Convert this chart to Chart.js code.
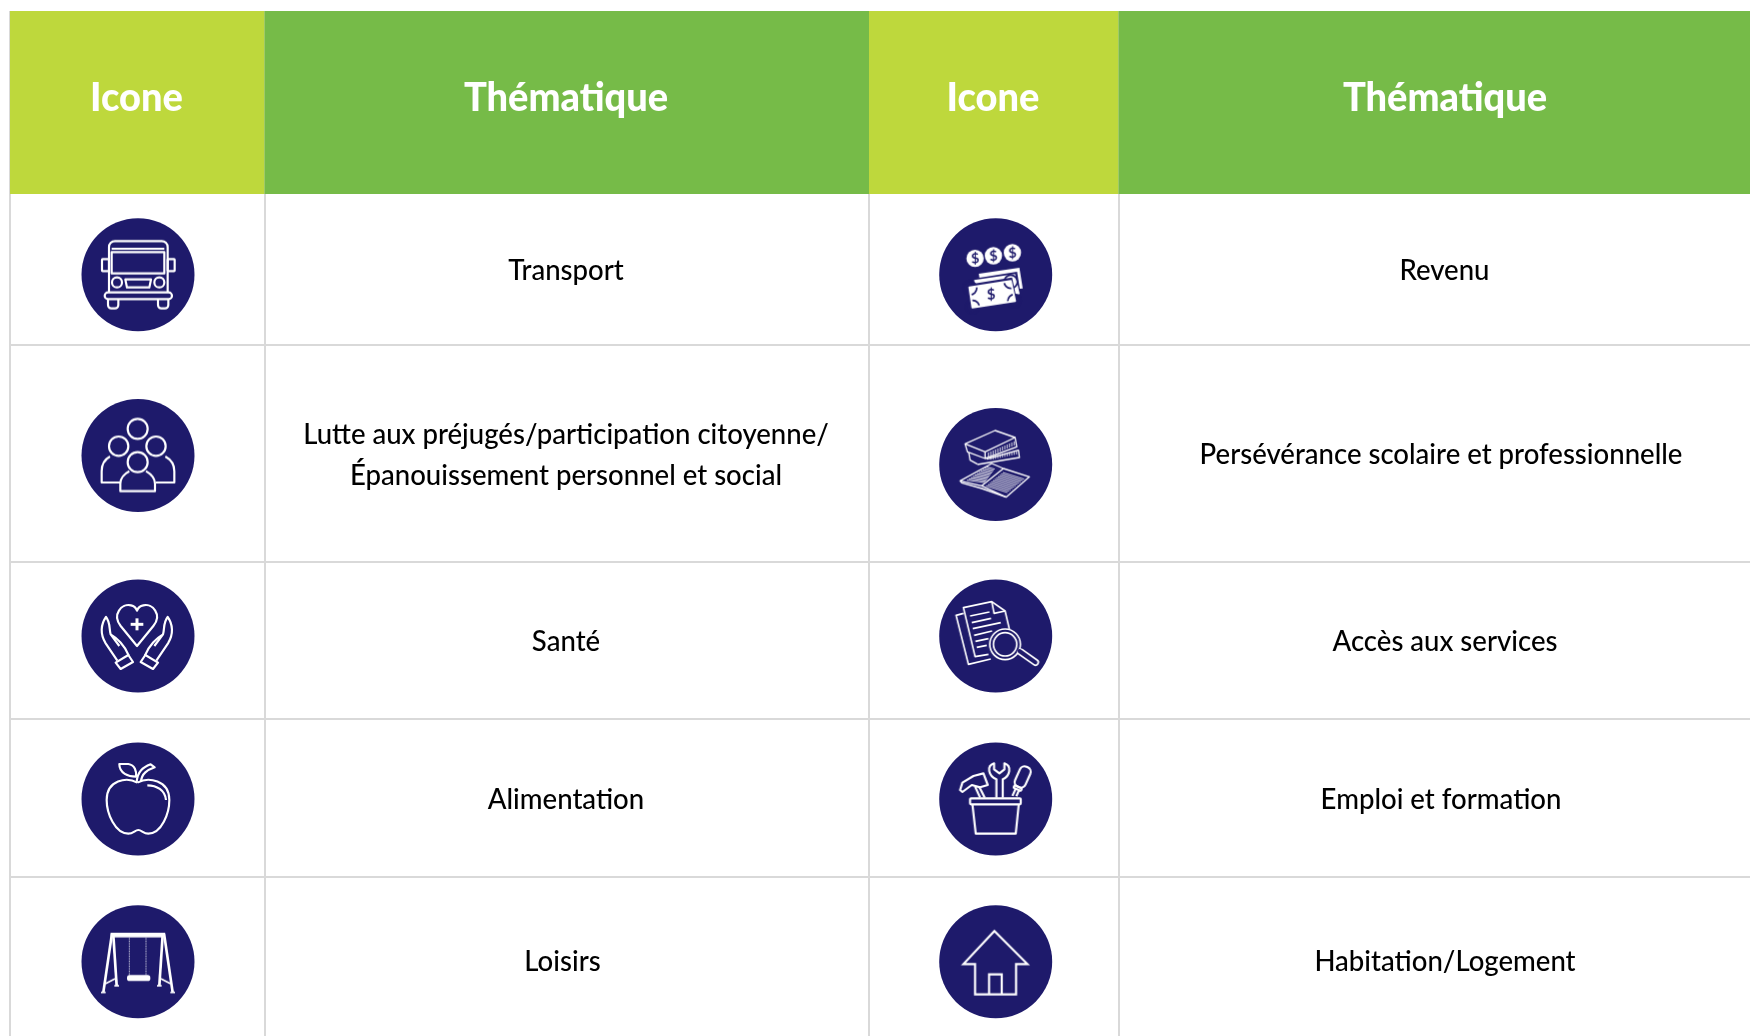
<!DOCTYPE html>
<html lang="fr">
<head>
<meta charset="utf-8">
<title>Thématiques</title>
<script src="https://cdn.jsdelivr.net/npm/chart.js@4"></script>
<style>
  html, body { margin: 0; padding: 0; background: #fff; overflow: hidden; }
  canvas { display: block; }
</style>
</head>
<body>
<canvas id="table-chart" width="1750" height="1036"></canvas>
<script>
// table content
const headers = ['Icone', 'Thématique', 'Icone', 'Thématique'];
const leftThemes = ['Transport', 'Lutte aux préjugés/participation citoyenne/\nÉpanouissement personnel et social', 'Santé', 'Alimentation', 'Loisirs'];
const rightThemes = ['Revenu', 'Persévérance scolaire et professionnelle', 'Accès aux services', 'Emploi et formation', 'Habitation/Logement'];
const leftIcons = ['bus', 'people', 'health', 'apple', 'swing'];
const rightIcons = ['money', 'books', 'search', 'tools', 'house'];

// table layout, in axis units
const columnEdges = [10, 264.5, 869, 1118.5, 1750];
const rowEdges = [11, 194, 345, 561.5, 719, 877];
const iconColumns = [138, 995.7];
const leftIconRows = [274.7, 455.5, 636, 799, 961.7];
const rightIconRows = [274.7, 464.5, 636, 799, 961.7];
const headerCenters = [136.5, 566, 993, 1445];
const headerRow = 98.5;
const leftTextX = [566, 566, 566, 566, 562.5];
const rightTextX = [1444.5, 1441, 1445, 1441, 1445];
const leftTextY = [270.5, 455, 641.5, 799.5, 961.5];
const rightTextY = [270.5, 454.5, 641.5, 799.5, 961.5];

const NAVY = '#1E1A6B';
const LIME = '#BED83C';
const GREEN = '#76BB48';
const GRID = '#D9D9D9';
const FONT = 'Lato, Carlito, sans-serif';
const headerSqueeze = 0.95;
const bodySqueeze = 0.95;

function poly(c, pts, close) {
  c.beginPath();
  pts.forEach((p, i) => i ? c.lineTo(p[0], p[1]) : c.moveTo(p[0], p[1]));
  if (close) c.closePath();
  c.stroke();
}
function circle(c, x, y, r) {
  c.beginPath();
  c.arc(x, y, r, 0, Math.PI * 2);
  c.stroke();
}
function rrect(c, x, y, w, h, r) {
  c.beginPath();
  c.roundRect(x, y, w, h, r);
  c.stroke();
}

// each glyph is drawn in 3x units around its own centre
const glyphs = {
  bus: { center: [234, 224], draw(c) {
    c.beginPath();
    c.moveTo(147, 278);
    c.lineTo(147, 141);
    c.arcTo(147, 123, 165, 123, 18);
    c.lineTo(305, 123);
    c.arcTo(323, 123, 323, 141, 18);
    c.lineTo(323, 278);
    c.stroke();
    poly(c, [[155, 146], [313, 146]]);
    poly(c, [[155, 156], [313, 156], [313, 220], [155, 220]], true);
    rrect(c, 126, 177, 21, 36, 2);
    rrect(c, 323, 177, 21, 36, 2);
    circle(c, 171, 247, 15);
    circle(c, 298, 247, 15);
    poly(c, [[196, 238], [273, 238], [268, 262], [201, 262]], true);
    rrect(c, 134, 277, 202, 20, 10);
    c.beginPath();
    c.moveTo(144, 297); c.lineTo(144, 315); c.arcTo(144, 325, 154, 325, 10); c.lineTo(165, 325); c.arcTo(175, 325, 175, 315, 10); c.lineTo(175, 297);
    c.moveTo(294, 297); c.lineTo(294, 315); c.arcTo(294, 325, 304, 325, 10); c.lineTo(315, 325); c.arcTo(325, 325, 325, 315, 10); c.lineTo(325, 297);
    c.stroke();
  } },
  people: { center: [234, 211], draw(c) {
    circle(c, 233, 131, 30);
    circle(c, 176, 183, 29);
    circle(c, 288, 183, 29);
    circle(c, 233, 231, 30);
    c.beginPath();
    c.moveTo(150, 214); c.bezierCurveTo(130, 225, 125, 240, 125, 258); c.lineTo(125, 292); c.lineTo(180, 292);
    c.moveTo(316, 214); c.bezierCurveTo(336, 225, 343, 240, 343, 258); c.lineTo(343, 292); c.lineTo(287, 292);
    c.stroke();
    c.beginPath();
    c.moveTo(208, 258); c.bezierCurveTo(200, 262, 181, 275, 181, 296); c.lineTo(181, 318); c.lineTo(285, 318); c.lineTo(285, 296);
    c.bezierCurveTo(285, 275, 270, 265, 258, 258);
    c.stroke();
  } },
  health: { center: [234, 210], draw(c) {
    c.beginPath();
    c.moveTo(231, 240);
    c.lineTo(182, 180);
    c.bezierCurveTo(155, 145, 185, 112, 213, 118);
    c.bezierCurveTo(223, 120, 229, 128, 231, 134);
    c.bezierCurveTo(233, 128, 240, 120, 250, 118);
    c.bezierCurveTo(277, 112, 308, 145, 280, 180);
    c.closePath();
    c.stroke();
    c.save();
    c.lineWidth = 9;
    poly(c, [[231, 157], [231, 193]]);
    poly(c, [[212, 175], [250, 175]]);
    c.restore();
    [false, true].forEach(flip => {
      c.save();
      if (flip) { c.translate(461, 0); c.scale(-1, 1); }
      c.beginPath();
      c.moveTo(172, 284); c.lineTo(137, 232);
      c.bezierCurveTo(120, 205, 122, 175, 138, 153);
      c.bezierCurveTo(152, 170, 147, 190, 152, 205);
      c.bezierCurveTo(170, 215, 195, 240, 206, 268);
      c.moveTo(152, 205); c.lineTo(178, 240);
      c.stroke();
      poly(c, [[167, 290], [205, 267], [219, 288], [182, 309]], true);
      c.restore();
    });
  } },
  apple: { center: [234, 207], draw(c) {
    c.beginPath();
    c.moveTo(232, 158);
    c.bezierCurveTo(200, 140, 140, 150, 140, 210);
    c.bezierCurveTo(140, 250, 165, 311, 205, 311);
    c.bezierCurveTo(220, 311, 225, 300, 235, 300);
    c.bezierCurveTo(245, 300, 250, 311, 265, 311);
    c.bezierCurveTo(305, 311, 328, 250, 328, 210);
    c.bezierCurveTo(328, 150, 265, 140, 232, 158);
    c.stroke();
    c.beginPath();
    c.moveTo(262, 166); c.bezierCurveTo(290, 166, 315, 180, 318, 210);
    c.stroke();
    c.beginPath();
    c.moveTo(178, 102); c.lineTo(205, 102); c.bezierCurveTo(225, 105, 230, 125, 228, 140);
    c.bezierCurveTo(205, 140, 178, 130, 178, 102);
    c.closePath();
    c.stroke();
    c.beginPath();
    c.moveTo(230, 156); c.bezierCurveTo(232, 125, 248, 112, 272, 103);
    c.lineTo(284, 112);
    c.bezierCurveTo(262, 120, 245, 130, 243, 155);
    c.stroke();
  } },
  swing: { center: [234, 200], draw(c) {
    c.fillStyle = '#fff';
    c.fillRect(152, 113, 163, 14);
    [false, true].forEach(flip => {
      c.save();
      if (flip) { c.translate(468, 0); c.scale(-1, 1); }
      c.lineWidth = 8;
      poly(c, [[156, 115], [130, 292]]);
      poly(c, [[160, 120], [170, 272]]);
      c.lineWidth = 5;
      poly(c, [[136, 266], [165, 251]]);
      poly(c, [[123, 292], [137, 292]]);
      poly(c, [[163, 272], [177, 272]]);
      c.restore();
    });
    c.save();
    c.lineWidth = 3;
    c.setLineDash([3, 2]);
    c.strokeStyle = '#C9C9DD';
    poly(c, [[208, 127], [208, 242]]);
    poly(c, [[258, 127], [258, 242]]);
    c.restore();
    c.beginPath();
    c.roundRect(201, 240, 70, 18, 8);
    c.fill();
  } },
  money: { center: [227, 224], draw(c) {
    const coin = (x, y) => {
      c.fillStyle = '#fff';
      c.beginPath();
      c.arc(x, y, 26, 0, Math.PI * 2);
      c.fill();
      dollar(c, x, y, 42);
    };
    coin(165, 175);
    coin(220, 167);
    coin(277, 158);
    const fillPoly = pts => {
      c.fillStyle = '#fff';
      c.beginPath();
      pts.forEach((p, i) => i ? c.lineTo(p[0], p[1]) : c.moveTo(p[0], p[1]));
      c.closePath();
      c.fill();
    };
    fillPoly([[176, 221], [298, 203], [308, 265], [299, 266], [291, 215], [178, 233]]);
    fillPoly([[162, 240], [285, 222], [299, 282], [287, 284], [276, 232], [164, 250]]);
    fillPoly([[148, 262], [272, 243], [285, 303], [157, 322]]);
    c.strokeStyle = NAVY;
    c.lineWidth = 5;
    [[150, 264], [272, 245], [283, 303], [158, 321]].forEach(p => circle(c, p[0], p[1], 20));
    c.strokeStyle = '#fff';
    c.lineWidth = 6;
    poly(c, [[148, 262], [272, 243], [285, 303], [157, 322]], true);
    dollar(c, 213, 283, 44);
  } },
  books: { center: [227, 208], draw(c) {
    c.lineWidth = 4;
    poly(c, [[135, 146], [225, 106], [285, 127], [195, 170]], true);
    poly(c, [[135, 146], [142, 170], [195, 190], [195, 170]]);
    poly(c, [[195, 190], [290, 155], [285, 127]]);
    poly(c, [[146, 172], [150, 195], [172, 207]]);
    poly(c, [[200, 192], [295, 165], [298, 187], [172, 208]]);
    poly(c, [[120, 257], [215, 205], [250, 220], [185, 272]], true);
    poly(c, [[250, 220], [328, 245], [258, 306], [185, 272]]);
    poly(c, [[120, 257], [125, 263], [185, 280], [258, 306]]);
    c.lineWidth = 2.5;
    for (const h of [0, 1, 2, 3, 4, 5, 6, 7, 8, 9, 10]) {
      poly(c, [[140 + h * 6, 255 - h * 4], [194 + h * 3, 262 - h * 4]]);
    }
    for (const h of [0, 1, 2, 3, 4, 5, 6, 7, 8, 9, 10]) {
      poly(c, [[198 + h * 5, 272 - h * 4], [262 + h * 5, 292 - h * 4]]);
    }
    for (const h of [0, 1, 2, 3, 4, 5, 6, 7, 8, 9, 10, 11]) {
      poly(c, [[205 + h * 7, 172 - h * 3], [205 + h * 7, 184 - h * 3]]);
      poly(c, [[212 + h * 7, 183 - h * 1.5], [212 + h * 7, 194 - h * 1.5]]);
    }
  } },
  search: { center: [227, 210], draw(c) {
    c.lineWidth = 5;
    poly(c, [[130, 142], [108, 148], [145, 295], [212, 279]]);
    poly(c, [[205, 265], [165, 272], [130, 125], [215, 107], [255, 135], [268, 190]]);
    poly(c, [[215, 107], [222, 142], [255, 135]]);
    poly(c, [[150, 150], [208, 138]]);
    poly(c, [[155, 170], [213, 157]]);
    poly(c, [[158, 188], [242, 170]]);
    poly(c, [[162, 208], [216, 195]]);
    poly(c, [[166, 226], [205, 218]]);
    poly(c, [[170, 244], [200, 238]]);
    c.fillStyle = NAVY;
    c.beginPath();
    c.arc(255, 235, 46, 0, Math.PI * 2);
    c.fill();
    circle(c, 255, 235, 46);
    circle(c, 255, 235, 35);
    c.save();
    c.lineCap = 'round';
    c.lineWidth = 22;
    poly(c, [[302, 258], [346, 289]]);
    c.strokeStyle = NAVY;
    c.lineWidth = 12;
    poly(c, [[298, 255], [346, 289]]);
    c.restore();
  } },
  tools: { center: [227, 207], draw(c) {
    rrect(c, 150, 205, 152, 18, 3);
    poly(c, [[157, 223], [167, 311], [287, 311], [296, 223]]);
    poly(c, [[120, 180], [127, 158], [160, 138], [190, 130], [203, 165], [180, 172], [155, 165], [127, 186]], true);
    poly(c, [[165, 170], [180, 203]]);
    poly(c, [[178, 172], [194, 203]]);
    c.beginPath();
    c.moveTo(229, 203); c.lineTo(229, 148);
    c.bezierCurveTo(205, 138, 198, 108, 222, 100);
    c.lineTo(222, 118); c.lineTo(238, 130); c.lineTo(253, 118); c.lineTo(253, 100);
    c.bezierCurveTo(276, 108, 270, 138, 248, 148);
    c.lineTo(248, 203);
    c.stroke();
    c.save();
    c.translate(306, 145);
    c.rotate(0.42);
    rrect(c, -17, -37, 34, 65, 15);
    rrect(c, -12, 28, 24, 8, 2);
    poly(c, [[-5, 36], [-5, 60]]);
    poly(c, [[6, 36], [6, 56]]);
    c.restore();
  } },
  house: { center: [227, 200], draw(c) {
    c.lineJoin = 'miter';
    poly(c, [[223, 108], [130, 207], [165, 207], [165, 298], [288, 298], [288, 207], [322, 207]], true);
    poly(c, [[207, 298], [207, 238], [245, 238], [245, 298]]);
  } }
};

function dollar(c, x, y, size) {
  c.save();
  c.translate(x, y);
  c.rotate(-0.08);
  c.fillStyle = NAVY;
  c.font = '700 ' + size + 'px Lato, sans-serif';
  c.textAlign = 'center';
  c.textBaseline = 'middle';
  c.fillText('$', 0, 1);
  c.restore();
}

function makeGlyph(name) {
  const canvas = document.createElement('canvas');
  canvas.width = 114;
  canvas.height = 114;
  const c = canvas.getContext('2d');
  const g = glyphs[name];
  c.translate(57, 57);
  c.scale(1 / 3, 1 / 3);
  c.translate(-g.center[0], -g.center[1]);
  c.strokeStyle = '#fff';
  c.lineWidth = 6.5;
  c.lineJoin = 'round';
  c.lineCap = 'butt';
  g.draw(c);
  return canvas;
}

const iconNames = leftIcons.concat(rightIcons);
const iconPoints = leftIconRows.map(y => ({ x: iconColumns[0], y }))
  .concat(rightIconRows.map(y => ({ x: iconColumns[1], y })));

// header fills and cell text, placed through the chart scales
const tablePlugin = {
  id: 'tablePlugin',
  beforeDatasetsDraw(chart) {
    const { ctx, scales: { x, y } } = chart;
    ctx.save();
    headers.forEach((h, i) => {
      const left = x.getPixelForValue(columnEdges[i]);
      const right = x.getPixelForValue(columnEdges[i + 1]);
      ctx.fillStyle = i % 2 ? GREEN : LIME;
      ctx.fillRect(left, y.getPixelForValue(rowEdges[0]), right - left, y.getPixelForValue(rowEdges[1]) - y.getPixelForValue(rowEdges[0]));
    });
    ctx.restore();
  },
  afterDatasetsDraw(chart) {
    const { ctx, scales: { x, y } } = chart;
    const put = (text, cx, cy, squeeze) => {
      const w = ctx.measureText(text).width * squeeze;
      ctx.fillText(text, x.getPixelForValue(cx), y.getPixelForValue(cy), w);
    };
    ctx.save();
    ctx.textAlign = 'center';
    ctx.textBaseline = 'middle';
    ctx.fillStyle = '#fff';
    ctx.font = '900 40px ' + FONT;
    headers.forEach((h, i) => put(h, headerCenters[i], headerRow, headerSqueeze));
    ctx.fillStyle = '#000';
    ctx.font = '500 29px ' + FONT;
    const column = (themes, xs, ys) => themes.forEach((t, i) => {
      const lines = t.split('\n');
      lines.forEach((line, k) => put(line, xs[i], ys[i] + (k - (lines.length - 1) / 2) * 41, bodySqueeze));
    });
    column(leftThemes, leftTextX, leftTextY);
    column(rightThemes, rightTextX, rightTextY);
    ctx.restore();
  }
};

new Chart(document.getElementById('table-chart'), {
  type: 'scatter',
  data: {
    datasets: [
      {
        label: 'Pictogrammes',
        data: iconPoints,
        pointStyle: iconNames.map(makeGlyph),
        pointRadius: 57,
        order: 1
      },
      {
        label: 'Pastilles',
        data: iconPoints,
        pointStyle: 'circle',
        pointRadius: 56.5,
        pointBorderWidth: 0,
        pointBackgroundColor: NAVY,
        order: 2
      }
    ]
  },
  options: {
    responsive: false,
    animation: false,
    layout: { autoPadding: false, padding: { left: 10, top: 11, right: 0, bottom: 0 } },
    plugins: { legend: { display: false }, tooltip: { enabled: false } },
    scales: {
      x: {
        type: 'linear',
        min: 10,
        max: 1750,
        border: { display: false },
        grid: { color: GRID, lineWidth: 2, drawTicks: false },
        ticks: { display: false },
        afterBuildTicks: scale => { scale.ticks = columnEdges.slice(0, 4).map(value => ({ value })); }
      },
      y: {
        type: 'linear',
        min: 11,
        max: 1036,
        reverse: true,
        border: { display: false },
        grid: { color: GRID, lineWidth: 2, drawTicks: false },
        ticks: { display: false },
        afterBuildTicks: scale => { scale.ticks = rowEdges.slice(2).map(value => ({ value })); }
      }
    }
  },
  plugins: [tablePlugin]
});
</script>
</body>
</html>
